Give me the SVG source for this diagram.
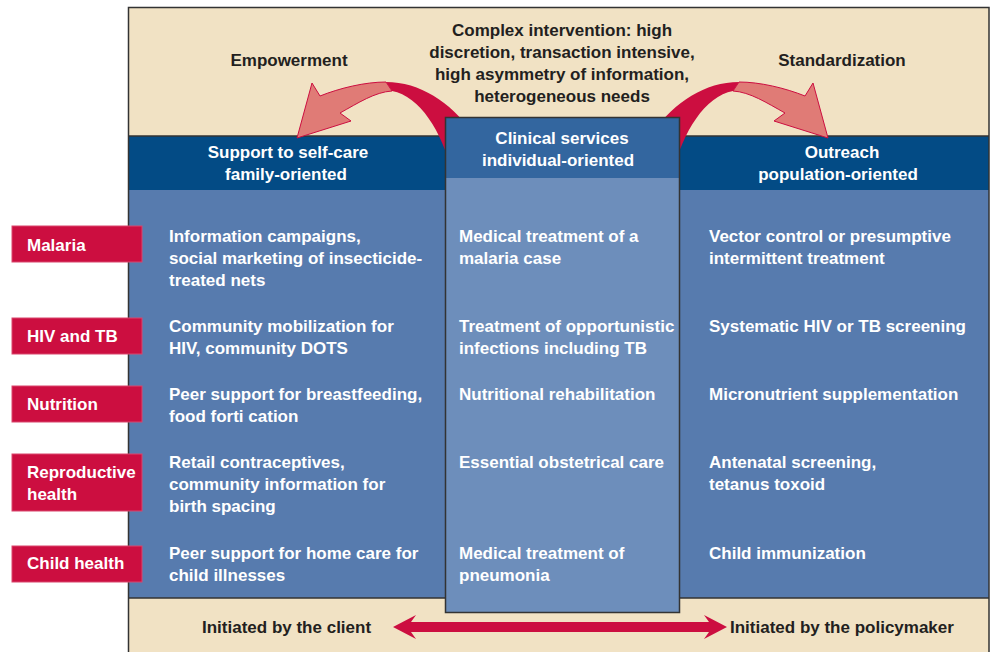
<svg xmlns="http://www.w3.org/2000/svg" width="993" height="652" viewBox="0 0 993 652">
<defs>
<style>
text{font-family:"Liberation Sans",Arial,sans-serif;font-weight:bold;font-size:17px}
.dk{fill:#231f20}
.wt{fill:#ffffff}
.mid{text-anchor:middle}
.lbl{fill:#cc0e40;stroke:#d9466c;stroke-width:1}
.edge{stroke:#333333;stroke-width:1.5}
</style>
</defs>
<rect width="993" height="652" fill="#ffffff"/>
<g id="frame">
<rect x="128" y="7" width="861" height="129" fill="#f1e2c4"/>
<rect x="128" y="136" width="861" height="54" fill="#034b85"/>
<rect x="128" y="190" width="861" height="408" fill="#577bae"/>
<rect x="128" y="598" width="861" height="56" fill="#f1e2c4"/>
<line x1="128" y1="136" x2="989" y2="136" class="edge"/>
<line x1="128" y1="598" x2="989" y2="598" class="edge"/>
<rect x="128.5" y="7.5" width="860.5" height="650" fill="none" class="edge"/>
</g>
<g id="top-texts">
<text class="dk mid" x="562" y="36">Complex intervention: high</text>
<text class="dk mid" x="562" y="58">discretion, transaction intensive,</text>
<text class="dk mid" x="562" y="80">high asymmetry of information,</text>
<text class="dk mid" x="562" y="102">heterogeneous needs</text>
<text class="dk mid" x="289" y="66">Empowerment</text>
<text class="dk mid" x="842" y="66">Standardization</text>
</g>
<g id="connectors">
<g id="arrow-empowerment">
<path d="M386,82 C420,82 450,102 472,132 L452,172 C442,132 420,96 392,91 Z" fill="#cc0e40"/>
<path d="M386,82 C365,82 340,88 320,96 L312,83 L297,138 L351,121 L340,113 C358,103 375,92 392,91 Z" fill="#e07b76" stroke="#cc0e40" stroke-width="1"/>
</g>
<g id="arrow-standardization" transform="translate(1125,0) scale(-1,1)">
<path d="M386,82 C420,82 450,102 472,132 L452,172 C442,132 420,96 392,91 Z" fill="#cc0e40"/>
<path d="M386,82 C365,82 340,88 320,96 L312,83 L297,138 L351,121 L340,113 C358,103 375,92 392,91 Z" fill="#e07b76" stroke="#cc0e40" stroke-width="1"/>
</g>
<path id="arrow-initiated" d="M393,627 L416,615 L411,622 L709,622 L704,615 L727,627 L704,639 L709,632 L411,632 L416,639 Z" fill="#cc0e40"/>
</g>
<g id="col-clinical">
<rect x="445.5" y="117.5" width="234" height="61" fill="#33669f"/>
<rect x="445.5" y="178" width="234" height="434.5" fill="#6d8ebb"/>
<rect x="445.5" y="117.5" width="234" height="495" fill="none" class="edge"/>
<text class="wt mid" x="562" y="144">Clinical services</text>
<text class="wt mid" x="558" y="166">individual-oriented</text>
</g>
<g id="col-selfcare">
<text class="wt mid" x="288" y="158">Support to self-care</text>
<text class="wt mid" x="286" y="180">family-oriented</text>
</g>
<g id="col-outreach">
<text class="wt mid" x="842" y="158">Outreach</text>
<text class="wt mid" x="838" y="180">population-oriented</text>
</g>
<g id="row-malaria">
<rect x="12" y="226" width="130" height="36" class="lbl"/>
<text class="wt" x="27" y="251">Malaria</text>
<text class="wt" x="169" y="242">Information campaigns,</text>
<text class="wt" x="169" y="264">social marketing of insecticide-</text>
<text class="wt" x="169" y="286">treated nets</text>
<text class="wt" x="459" y="242">Medical treatment of a</text>
<text class="wt" x="459" y="264">malaria case</text>
<text class="wt" x="709" y="242">Vector control or presumptive</text>
<text class="wt" x="709" y="264">intermittent treatment</text>
</g>
<g id="row-hiv">
<rect x="12" y="318" width="130" height="36" class="lbl"/>
<text class="wt" x="27" y="342">HIV and TB</text>
<text class="wt" x="169" y="332">Community mobilization for</text>
<text class="wt" x="169" y="354">HIV, community DOTS</text>
<text class="wt" x="459" y="332">Treatment of opportunistic</text>
<text class="wt" x="459" y="354">infections including TB</text>
<text class="wt" x="709" y="332">Systematic HIV or TB screening</text>
</g>
<g id="row-nutrition">
<rect x="12" y="386" width="130" height="36" class="lbl"/>
<text class="wt" x="27" y="410">Nutrition</text>
<text class="wt" x="169" y="400">Peer support for breastfeeding,</text>
<text class="wt" x="169" y="422">food forti cation</text>
<text class="wt" x="459" y="400">Nutritional rehabilitation</text>
<text class="wt" x="709" y="400">Micronutrient supplementation</text>
</g>
<g id="row-reproductive">
<rect x="12" y="454" width="130" height="57" class="lbl"/>
<text class="wt" x="27" y="478">Reproductive</text>
<text class="wt" x="27" y="500">health</text>
<text class="wt" x="169" y="468">Retail contraceptives,</text>
<text class="wt" x="169" y="490">community information for</text>
<text class="wt" x="169" y="512">birth spacing</text>
<text class="wt" x="459" y="468">Essential obstetrical care</text>
<text class="wt" x="709" y="468">Antenatal screening,</text>
<text class="wt" x="709" y="490">tetanus toxoid</text>
</g>
<g id="row-child">
<rect x="12" y="546" width="130" height="36" class="lbl"/>
<text class="wt" x="27" y="569">Child health</text>
<text class="wt" x="169" y="559">Peer support for home care for</text>
<text class="wt" x="169" y="581">child illnesses</text>
<text class="wt" x="459" y="559">Medical treatment of</text>
<text class="wt" x="459" y="581">pneumonia</text>
<text class="wt" x="709" y="559">Child immunization</text>
</g>
<g id="bottom-texts">
<text class="dk" x="202" y="633">Initiated by the client</text>
<text class="dk" x="730" y="633">Initiated by the policymaker</text>
</g>
</svg>
